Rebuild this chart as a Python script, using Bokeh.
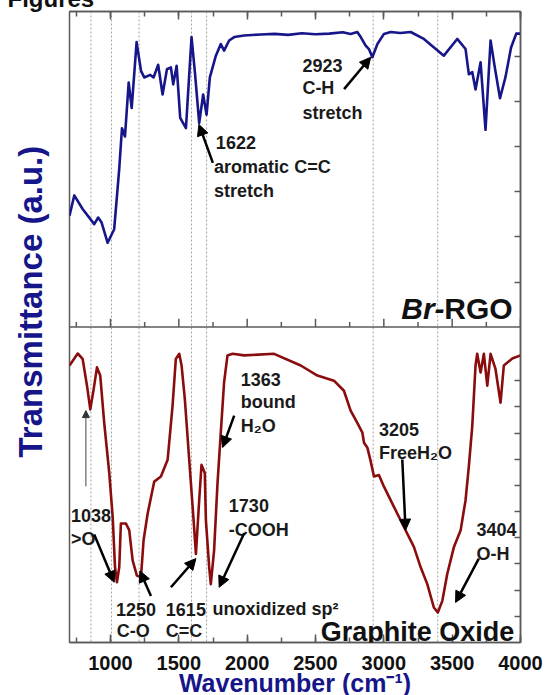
import math
from bokeh.plotting import figure
from bokeh.models import (Range1d, LinearAxis, SingleIntervalTicker, FixedTicker, Span,
                          Label, Title, Arrow, NormalHead, ColumnDataSource)
from bokeh.core.properties import value
from bokeh.embed import file_html
from bokeh.resources import INLINE

FONT = "Liberation Sans"
NAVY = "#16168a"
RED = "#8a0c0c"
FRAME = "#5a5a5a"

# ---- Br-RGO spectrum (upper panel) ----
top_wn = [700, 735, 796, 881, 910, 935, 979, 1027, 1064, 1084, 1106, 1133, 1155, 1191, 1223, 1247,
          1291, 1315, 1349, 1381, 1413, 1442, 1459, 1484, 1510, 1552, 1593, 1619, 1649, 1678, 1703,
          1727, 1771, 1807, 1831, 1868, 1905, 1978, 2100, 2200, 2300, 2400, 2500, 2600, 2700, 2757,
          2806, 2831, 2867, 2891, 2916, 2953, 3001, 3050, 3120, 3196, 3293, 3439, 3537, 3598, 3622,
          3647, 3671, 3708, 3744, 3781, 3812, 3850, 3890, 3931, 3969, 4000]
top_t = [35.3, 41.7, 37.4, 32.6, 34.7, 33.1, 26.7, 31.0, 50.2, 63.0, 60.4, 77.5, 69.4, 90.3, 81.2, 79.1,
         79.9, 79.1, 83.1, 73.7, 81.7, 82.3, 76.9, 82.8, 66.3, 63.0, 91.9, 80.1, 64.6, 73.7, 67.3,
         79.1, 86.0, 89.7, 87.6, 90.8, 91.9, 92.4, 92.7, 92.9, 92.6, 93.1, 92.8, 93.0, 93.4, 92.9,
         93.5, 91.9, 89.2, 88.1, 85.5, 89.7, 92.9, 93.5, 93.2, 93.5, 91.3, 86.0, 91.3, 88.1, 80.1,
         80.8, 75.3, 83.9, 62.5, 90.8, 82.3, 72.5, 79.2, 88.6, 93.0, 93.0]

# ---- Graphite oxide spectrum (lower panel) ----
bot_wn = [700, 760, 796, 828, 852, 877, 901, 925, 954, 991, 1016, 1033, 1047, 1064, 1076, 1113, 1137,
          1162, 1193, 1223, 1242, 1272, 1320, 1369, 1418, 1454, 1478, 1503, 1520, 1544, 1576, 1608,
          1625, 1649, 1666, 1690, 1698, 1722, 1734, 1758, 1783, 1807, 1831, 1856, 1893, 1978, 2197,
          2392, 2514, 2635, 2708, 2757, 2806, 2843, 2855, 2880, 2904, 2928, 2964, 3001, 3074, 3147,
          3220, 3269, 3318, 3366, 3395, 3428, 3464, 3513, 3562, 3598, 3622, 3647, 3671, 3683, 3708,
          3732, 3757, 3781, 3817, 3854, 3878, 3940, 4000]
bot_t = [87.8, 91.6, 89.9, 81.4, 73.9, 80.3, 87.2, 84.6, 69.6, 53.7, 39.8, 23.9, 19.1, 23.9, 37.7, 37.7,
         35.6, 26.0, 21.2, 20.7, 32.4, 40.9, 51.0, 52.6, 57.9, 75.0, 89.9, 91.5, 87.8, 77.1, 57.9, 38.8,
         28.1, 45.1, 56.3, 53.7, 38.8, 23.9, 18.5, 29.2, 50.5, 66.5, 82.4, 91.0, 91.5, 91.0, 91.5,
         87.8, 84.6, 83.0, 79.8, 73.5, 69.6, 66.5, 63.3, 61.7, 57.4, 52.6, 53.1, 49.4, 43.0, 36.6,
         30.3, 23.9, 18.5, 11.1, 9.5, 13.2, 21.7, 30.3, 35.6, 45.1, 55.8, 68.6, 87.8, 91.5, 85.6,
         91.5, 81.4, 91.5, 86.7, 76.0, 87.8, 90.0, 91.0]

# dotted reference lines (wavenumber)
vline_wn = [857, 1007, 1209, 1593, 1703, 2922, 3394]

# ticks
major_ticks = [1000, 1500, 2000, 2500, 3000, 3500, 4000]
minor_ticks = [750, 1250, 1750, 2250, 2750, 3250, 3750]
right_ticks = [8.3, 16.6, 24.9, 33.2, 41.5, 49.8, 58.1, 66.4, 74.7, 83.0,
               114.2, 128.6, 142.9, 157.2, 171.5, 185.8]

# annotations, upper panel
top_txt = ["1622", "aromatic C=C", "stretch", "2923", "C-H", "stretch"]
top_txt_x = [1771, 1758, 1758, 2404, 2404, 2404]
top_txt_y = [58.5, 50.8, 43.1, 83.0, 75.6, 67.9]
top_arr_x0 = [1749, 2709]
top_arr_y0 = [52.0, 75.4]
top_arr_x1 = [1647, 2904]
top_arr_y1 = [64.2, 85.5]

# annotations, lower panel
bot_txt = ["1038", ">O", "1250", "C-O", "1615", "C=C", "unoxidized sp\u00b2", "1730", "-COOH",
           "1363", "bound", "H\u2082O", "3205", "FreeH\u2082O", "3404", "O-H"]
bot_txt_x = [711, 711, 1040, 1045, 1405, 1405, 1747, 1866, 1866, 1953, 1953, 1953, 2964, 2964, 3678, 3678]
bot_txt_y = [40.4, 32.8, 10.6, 3.6, 10.6, 3.5, 10.6, 43.5, 35.8, 83.5, 76.2, 68.5, 67.5, 60.2, 35.8, 28.2]
bot_arr_x0 = [881, 1296, 1442, 1978, 1905, 3135, 3695]
bot_arr_y0 = [34.2, 14.7, 17.5, 34.6, 71.9, 58.0, 26.6]
bot_arr_x1 = [1027, 1215, 1625, 1795, 1820, 3159, 3525]
bot_arr_y1 = [19.1, 22.7, 26.6, 17.5, 61.8, 35.6, 12.7]
thin_arr = dict(x0=[820], y0=[49.5], x1=[820], y1=[73.5])

p = figure(width=557, height=717, x_range=Range1d(700, 4000), y_range=Range1d(0, 200),
           y_axis_type=None, title="Figures",
           output_backend="svg", toolbar_location=None,
           min_border_left=81, min_border_right=25, min_border_top=0, min_border_bottom=57)
p.styles = {"margin-top": "-18px", "margin-bottom": "-4px", "margin-left": "-12px"}
p.extra_y_ranges = {"top": Range1d(-100, 100)}
p.background_fill_color = "white"
p.border_fill_color = "white"
p.outline_line_color = FRAME
p.outline_line_width = 1.5
p.xgrid.visible = False
p.ygrid.visible = False

p.title.align = "left"
p.title.offset = -62
p.title.standoff = 0
p.title.text_font = FONT
p.title.text_font_size = "24px"
p.title.text_font_style = "bold"
p.title.text_color = "#111111"

ticker = SingleIntervalTicker(interval=500, num_minor_ticks=2)
xa = p.xaxis[0]
xa.ticker = ticker
xa.axis_line_color = FRAME
xa.axis_line_width = 1.5
xa.major_tick_in = 8
xa.major_tick_out = 0
xa.minor_tick_in = 5
xa.minor_tick_out = 0
xa.major_tick_line_color = FRAME
xa.minor_tick_line_color = FRAME
xa.major_tick_line_width = 1.5
xa.minor_tick_line_width = 1.5
xa.major_label_text_font = FONT
xa.major_label_text_font_style = "bold"
xa.major_label_text_font_size = "20px"
xa.major_label_text_color = "#111111"
xa.major_label_standoff = 13
xa.axis_label = "Wavenumber (cm\u207b\u00b9)"
xa.axis_label_text_font = FONT
xa.axis_label_text_font_size = "25px"
xa.axis_label_text_font_style = "bold"
xa.axis_label_text_color = NAVY
xa.axis_label_standoff = -4

top_axis = LinearAxis(ticker=ticker, major_tick_in=8, major_tick_out=0, minor_tick_in=5,
                      minor_tick_out=0, major_label_text_font_size="0px", major_label_text_color=None,
                      major_label_standoff=0,
                      axis_line_color=FRAME, axis_line_width=1.5,
                      major_tick_line_color=FRAME, minor_tick_line_color=FRAME,
                      major_tick_line_width=1.5, minor_tick_line_width=1.5)
p.add_layout(top_axis, "above")

right_axis = LinearAxis(ticker=FixedTicker(ticks=right_ticks), major_tick_in=6, major_tick_out=0,
                        minor_tick_in=0, minor_tick_out=0, major_label_text_font_size="0px",
                        major_label_text_color=None,
                        major_label_standoff=0, axis_line_color=FRAME, axis_line_width=1.5,
                        major_tick_line_color=FRAME, major_tick_line_width=1.5)
p.add_layout(right_axis, "right")

# y-axis title (standoff keeps it away from the frame)
p.add_layout(Title(text="Transmittance (a.u.)", align="left", offset=185, standoff=42,
                   vertical_align="bottom",
                   text_font=FONT, text_font_size="33px", text_font_style="bold",
                   text_color=NAVY), "left")

for w in vline_wn:
    p.add_layout(Span(location=w, dimension="height", line_color="#a0a0a0", line_width=1,
                      line_dash="2 2", level="underlay"))

# separator between panels
p.add_layout(Span(location=100, dimension="width", line_color=FRAME, line_width=1.5))
p.segment(x0=major_ticks, y0=[0] * len(major_ticks), x1=major_ticks, y1=[2.6] * len(major_ticks),
          y_range_name="top", line_color=FRAME, line_width=1.5)
p.segment(x0=minor_ticks, y0=[0] * len(minor_ticks), x1=minor_ticks, y1=[1.6] * len(minor_ticks),
          y_range_name="top", line_color=FRAME, line_width=1.5)

# curves
p.line(top_wn, top_t, y_range_name="top", line_color=NAVY, line_width=2.6, line_join="round")
p.line(bot_wn, bot_t, line_color=RED, line_width=2.6, line_join="round")

# annotation texts
p.text(x=top_txt_x, y=top_txt_y, text=top_txt, y_range_name="top", text_font=value(FONT),
       text_font_style="bold", text_font_size="18px", text_color="#1a1a1a",
       text_baseline="alphabetic", text_align="left")
p.text(x=bot_txt_x, y=bot_txt_y, text=bot_txt, text_font=value(FONT),
       text_font_style="bold", text_font_size="18px", text_color="#1a1a1a",
       text_baseline="alphabetic", text_align="left")

head = dict(size=11, fill_color="black", line_color="black")
p.add_layout(Arrow(end=NormalHead(**head), x_start="x0", y_start="y0", x_end="x1", y_end="y1",
                   source=ColumnDataSource(dict(x0=top_arr_x0, y0=top_arr_y0, x1=top_arr_x1, y1=top_arr_y1)),
                   y_range_name="top", line_width=2.5, line_color="black"))
p.add_layout(Arrow(end=NormalHead(**head), x_start="x0", y_start="y0", x_end="x1", y_end="y1",
                   source=ColumnDataSource(dict(x0=bot_arr_x0, y0=bot_arr_y0, x1=bot_arr_x1, y1=bot_arr_y1)),
                   line_width=2.5, line_color="black"))
p.add_layout(Arrow(end=NormalHead(size=7, fill_color="#333333", line_color="#333333"),
                   x_start="x0", y_start="y0", x_end="x1", y_end="y1",
                   source=ColumnDataSource(thin_arr), line_width=1, line_color="#444444"))

# panel names
p.add_layout(Label(x=3942, y=5.9, y_range_name="top", text="RGO", text_font=FONT, text_font_size="30px",
                   text_font_style="bold", text_align="right", text_baseline="alphabetic", text_color="#111111"))
p.add_layout(Label(x=3942, y=5.9, x_offset=-68, y_range_name="top", text="Br-", text_font=FONT,
                   text_font_size="30px", text_font_style="bold italic", text_align="right",
                   text_baseline="alphabetic", text_color="#111111"))
p.add_layout(Label(x=2538, y=3.2, text="Graphite Oxide", text_font=FONT, text_font_size="27px",
                   text_font_style="bold", text_align="left", text_baseline="alphabetic", text_color="#111111"))

open("out.html", "w").write(file_html(p, INLINE))
